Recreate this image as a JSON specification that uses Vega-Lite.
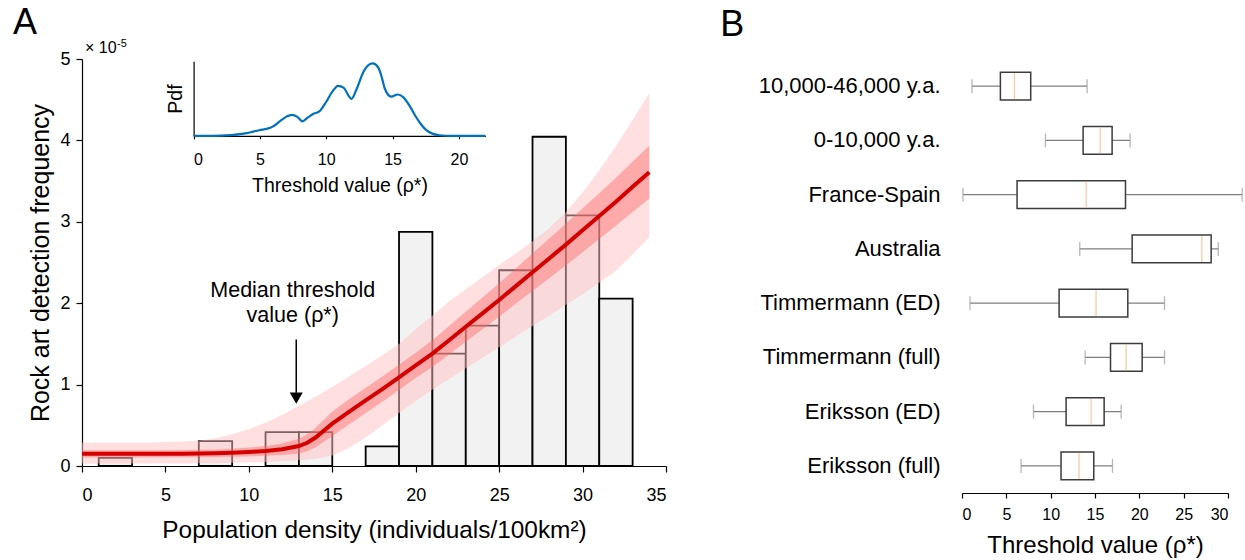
{
  "$schema": "https://vega.github.io/schema/vega-lite/v6.json",
  "padding": {"left": 12, "top": 4, "right": 2, "bottom": 2},
  "config": {
    "font": "Liberation Sans",
    "view": {"stroke": null},
    "axis": {"grid": false, "domainColor": "black", "tickColor": "black", "labelColor": "black", "titleColor": "black", "titleFontWeight": "normal", "domainWidth": 1.2, "tickWidth": 1.2}
  },
  "datasets": {
    "hist": [
      {"x0": 1, "x1": 3, "freq": 0.10},
      {"x0": 7, "x1": 9, "freq": 0.305},
      {"x0": 11, "x1": 13, "freq": 0.415},
      {"x0": 13, "x1": 15, "freq": 0.415},
      {"x0": 17, "x1": 19, "freq": 0.24},
      {"x0": 19, "x1": 21, "freq": 2.876},
      {"x0": 21, "x1": 23, "freq": 1.38},
      {"x0": 23, "x1": 25, "freq": 1.724},
      {"x0": 25, "x1": 27, "freq": 2.405},
      {"x0": 27, "x1": 29, "freq": 4.045},
      {"x0": 29, "x1": 31, "freq": 3.08},
      {"x0": 31, "x1": 33, "freq": 2.056}
    ],
    "fit": [
      {"x": 0, "L": 0.15, "iLo": 0.105, "iHi": 0.195, "oLo": 0.03, "oHi": 0.29},
      {"x": 2, "L": 0.15, "iLo": 0.105, "iHi": 0.195, "oLo": 0.03, "oHi": 0.29},
      {"x": 4, "L": 0.15, "iLo": 0.105, "iHi": 0.195, "oLo": 0.03, "oHi": 0.29},
      {"x": 6, "L": 0.152, "iLo": 0.107, "iHi": 0.197, "oLo": 0.03, "oHi": 0.30},
      {"x": 7, "L": 0.154, "iLo": 0.109, "iHi": 0.199, "oLo": 0.033, "oHi": 0.31},
      {"x": 8, "L": 0.157, "iLo": 0.112, "iHi": 0.202, "oLo": 0.035, "oHi": 0.34},
      {"x": 9, "L": 0.163, "iLo": 0.113, "iHi": 0.213, "oLo": 0.04, "oHi": 0.39},
      {"x": 10, "L": 0.172, "iLo": 0.117, "iHi": 0.227, "oLo": 0.045, "oHi": 0.45},
      {"x": 11, "L": 0.185, "iLo": 0.125, "iHi": 0.245, "oLo": 0.05, "oHi": 0.53},
      {"x": 12, "L": 0.205, "iLo": 0.135, "iHi": 0.275, "oLo": 0.06, "oHi": 0.63},
      {"x": 13, "L": 0.245, "iLo": 0.155, "iHi": 0.335, "oLo": 0.07, "oHi": 0.74},
      {"x": 13.5, "L": 0.285, "iLo": 0.18, "iHi": 0.39, "oLo": 0.08, "oHi": 0.795},
      {"x": 14, "L": 0.35, "iLo": 0.23, "iHi": 0.47, "oLo": 0.09, "oHi": 0.85},
      {"x": 15, "L": 0.52, "iLo": 0.37, "iHi": 0.67, "oLo": 0.13, "oHi": 0.97},
      {"x": 16, "L": 0.665, "iLo": 0.51, "iHi": 0.82, "oLo": 0.22, "oHi": 1.1},
      {"x": 17, "L": 0.805, "iLo": 0.65, "iHi": 0.96, "oLo": 0.35, "oHi": 1.23},
      {"x": 18, "L": 0.945, "iLo": 0.79, "iHi": 1.10, "oLo": 0.5, "oHi": 1.36},
      {"x": 19, "L": 1.09, "iLo": 0.935, "iHi": 1.245, "oLo": 0.65, "oHi": 1.5},
      {"x": 20, "L": 1.235, "iLo": 1.08, "iHi": 1.39, "oLo": 0.8, "oHi": 1.68},
      {"x": 21, "L": 1.38, "iLo": 1.215, "iHi": 1.545, "oLo": 0.94, "oHi": 1.85},
      {"x": 22, "L": 1.545, "iLo": 1.37, "iHi": 1.72, "oLo": 1.07, "oHi": 2.02},
      {"x": 23, "L": 1.71, "iLo": 1.525, "iHi": 1.895, "oLo": 1.2, "oHi": 2.17},
      {"x": 24, "L": 1.875, "iLo": 1.68, "iHi": 2.07, "oLo": 1.33, "oHi": 2.32},
      {"x": 25, "L": 2.04, "iLo": 1.835, "iHi": 2.245, "oLo": 1.46, "oHi": 2.47},
      {"x": 26, "L": 2.21, "iLo": 1.995, "iHi": 2.425, "oLo": 1.59, "oHi": 2.61},
      {"x": 27, "L": 2.38, "iLo": 2.15, "iHi": 2.61, "oLo": 1.72, "oHi": 2.76},
      {"x": 28, "L": 2.55, "iLo": 2.305, "iHi": 2.795, "oLo": 1.85, "oHi": 2.92},
      {"x": 29, "L": 2.72, "iLo": 2.465, "iHi": 2.975, "oLo": 1.98, "oHi": 3.12},
      {"x": 30, "L": 2.895, "iLo": 2.625, "iHi": 3.165, "oLo": 2.11, "oHi": 3.36},
      {"x": 31, "L": 3.07, "iLo": 2.79, "iHi": 3.35, "oLo": 2.25, "oHi": 3.63},
      {"x": 32, "L": 3.245, "iLo": 2.95, "iHi": 3.54, "oLo": 2.4, "oHi": 3.93},
      {"x": 33, "L": 3.43, "iLo": 3.12, "iHi": 3.74, "oLo": 2.6, "oHi": 4.25},
      {"x": 34, "L": 3.61, "iLo": 3.285, "iHi": 3.935, "oLo": 2.81, "oHi": 4.58}
    ],
    "pdf": [
      {"t": 0, "p": 0}, {"t": 1, "p": 0}, {"t": 2, "p": 0.003}, {"t": 3, "p": 0.012},
      {"t": 3.5, "p": 0.022}, {"t": 4, "p": 0.037}, {"t": 4.5, "p": 0.058}, {"t": 5, "p": 0.08},
      {"t": 5.5, "p": 0.095}, {"t": 6, "p": 0.13}, {"t": 6.5, "p": 0.2}, {"t": 7, "p": 0.265},
      {"t": 7.4, "p": 0.29}, {"t": 7.8, "p": 0.265}, {"t": 8.2, "p": 0.2}, {"t": 8.6, "p": 0.25},
      {"t": 9, "p": 0.3}, {"t": 9.5, "p": 0.34}, {"t": 10, "p": 0.47}, {"t": 10.5, "p": 0.62},
      {"t": 10.9, "p": 0.69}, {"t": 11.3, "p": 0.665}, {"t": 11.9, "p": 0.51}, {"t": 12.3, "p": 0.65},
      {"t": 12.8, "p": 0.88}, {"t": 13.2, "p": 0.98}, {"t": 13.5, "p": 1.0}, {"t": 13.9, "p": 0.95},
      {"t": 14.2, "p": 0.8}, {"t": 14.4, "p": 0.66}, {"t": 14.9, "p": 0.54}, {"t": 15.4, "p": 0.57},
      {"t": 15.8, "p": 0.535}, {"t": 16.3, "p": 0.41}, {"t": 16.7, "p": 0.28}, {"t": 17.1, "p": 0.17},
      {"t": 17.5, "p": 0.085}, {"t": 18, "p": 0.03}, {"t": 18.5, "p": 0.008}, {"t": 19, "p": 0.001},
      {"t": 20, "p": 0}, {"t": 22, "p": 0}
    ],
    "annot": [
      {"x": 12.63, "y": 2.074, "label": "Median threshold"},
      {"x": 12.63, "y": 1.775, "label": "value (ρ*)"}
    ],
    "scalebase": [{"x": 0.18, "y": 5.07, "label": "× 10"}],
    "scaleexp": [{"x": 2.1, "y": 5.15, "label": "-5"}],
    "arrow": [{"x": 12.84, "top": 1.554, "bottom": 0.9, "head": 0.833}],
    "boxes": [
      {"label": "10,000-46,000 y.a.", "lo": 1.13, "q1": 4.33, "med": 5.91, "q3": 7.75, "hi": 14.11},
      {"label": "0-10,000 y.a.", "lo": 9.41, "q1": 13.66, "med": 15.58, "q3": 16.93, "hi": 18.96},
      {"label": "France-Spain", "lo": 0.11, "q1": 6.21, "med": 14.0, "q3": 18.44, "hi": 31.6},
      {"label": "Australia", "lo": 13.28, "q1": 19.19, "med": 27.05, "q3": 28.1, "hi": 28.9},
      {"label": "Timmermann (ED)", "lo": 0.9, "q1": 10.95, "med": 15.12, "q3": 18.7, "hi": 22.84},
      {"label": "Timmermann (full)", "lo": 13.89, "q1": 16.75, "med": 18.51, "q3": 20.32, "hi": 22.84},
      {"label": "Eriksson (ED)", "lo": 8.06, "q1": 11.74, "med": 14.56, "q3": 16.03, "hi": 17.95},
      {"label": "Eriksson (full)", "lo": 6.66, "q1": 11.17, "med": 13.2, "q3": 14.86, "hi": 16.97}
    ]
  },
  "spacing": 53,
  "hconcat": [
    {
      "title": {"text": "A", "anchor": "start", "frame": "bounds", "fontSize": 36, "fontWeight": "normal", "dx": -16, "offset": -4},
      "width": 584,
      "height": 407,
      "layer": [
        {
          "layer": [
            {
              "data": {"name": "hist"},
              "mark": {"type": "rect", "fill": "#f2f2f2", "stroke": "black", "strokeWidth": 1.8},
              "encoding": {
                "x": {"field": "x0", "type": "quantitative", "scale": {"domain": [0, 35], "nice": false},
                  "axis": {"values": [0, 5, 10, 15, 20, 25, 30, 35], "format": "d", "title": "Population density (individuals/100km²)", "titleFontSize": 24.4, "labelFontSize": 18, "tickSize": 6, "labelPadding": 14, "titlePadding": 14}},
                "x2": {"field": "x1"},
                "y": {"field": "freq", "type": "quantitative", "scale": {"domain": [0, 5], "nice": false},
                  "axis": {"values": [0, 1, 2, 3, 4, 5], "format": "d", "title": "Rock art detection frequency", "titleFontSize": 25, "labelFontSize": 18, "tickSize": 6, "labelPadding": 6, "titlePadding": 6}},
                "y2": {"datum": 0}
              }
            },
            {
              "data": {"name": "fit"},
              "mark": {"type": "area", "color": "#ffbfbf", "opacity": 0.5},
              "encoding": {"x": {"field": "x", "type": "quantitative"}, "y": {"field": "oLo", "type": "quantitative"}, "y2": {"field": "oHi"}}
            },
            {
              "data": {"name": "fit"},
              "mark": {"type": "area", "color": "#ff6b6b", "opacity": 0.45},
              "encoding": {"x": {"field": "x", "type": "quantitative"}, "y": {"field": "iLo", "type": "quantitative"}, "y2": {"field": "iHi"}}
            },
            {
              "data": {"name": "fit"},
              "mark": {"type": "line", "color": "#d40000", "strokeWidth": 4},
              "encoding": {"x": {"field": "x", "type": "quantitative"}, "y": {"field": "L", "type": "quantitative"}}
            },
            {
              "data": {"name": "arrow"},
              "mark": {"type": "rule", "color": "black", "strokeWidth": 1.5},
              "encoding": {"x": {"field": "x", "type": "quantitative"}, "y": {"field": "top", "type": "quantitative"}, "y2": {"field": "bottom"}}
            },
            {
              "data": {"name": "arrow"},
              "mark": {"type": "point", "shape": "triangle-down", "filled": true, "color": "black", "size": 169, "opacity": 1},
              "encoding": {"x": {"field": "x", "type": "quantitative"}, "y": {"field": "head", "type": "quantitative"}}
            },
            {
              "data": {"name": "annot"},
              "mark": {"type": "text", "fontSize": 21.5, "align": "center", "baseline": "alphabetic", "color": "black"},
              "encoding": {"x": {"field": "x", "type": "quantitative"}, "y": {"field": "y", "type": "quantitative"}, "text": {"field": "label"}}
            },
            {
              "data": {"name": "scalebase"},
              "mark": {"type": "text", "fontSize": 16, "align": "left", "baseline": "alphabetic", "color": "black"},
              "encoding": {"x": {"field": "x", "type": "quantitative"}, "y": {"field": "y", "type": "quantitative"}, "text": {"field": "label"}}
            },
            {
              "data": {"name": "scaleexp"},
              "mark": {"type": "text", "fontSize": 11, "align": "left", "baseline": "alphabetic", "color": "black"},
              "encoding": {"x": {"field": "x", "type": "quantitative"}, "y": {"field": "y", "type": "quantitative"}, "text": {"field": "label"}}
            }
          ]
        },
        {
          "data": {"name": "pdf"},
          "mark": {"type": "line", "color": "#0072bd", "strokeWidth": 2.2, "interpolate": "monotone"},
          "encoding": {
            "x": {"field": "t", "type": "quantitative", "scale": {"domain": [0, 22], "range": [111.6, 403.4], "nice": false},
              "axis": {"orient": "bottom", "offset": -330.2, "values": [0, 5, 10, 15, 20], "format": "d", "title": "Threshold value (ρ*)", "titleFontSize": 19.5, "labelFontSize": 16, "tickSize": 3, "labelPadding": 13, "titlePadding": 9}},
            "y": {"field": "p", "type": "quantitative", "scale": {"domain": [0, 1.03], "range": [76.8, 2.2], "nice": false},
              "axis": {"orient": "left", "offset": -111.6, "title": "Pdf", "titleFontSize": 19.5, "labels": false, "ticks": false, "titlePadding": 8}}
          }
        }
      ],
      "resolve": {"scale": {"x": "independent", "y": "independent"}}
    },
    {
      "title": {"text": "B", "anchor": "start", "frame": "bounds", "fontSize": 36, "fontWeight": "normal", "dx": -38, "offset": 15},
      "width": 266,
      "height": 434,
      "data": {"name": "boxes"},
      "encoding": {
        "y": {"field": "label", "type": "nominal", "sort": null, "scale": {"paddingInner": 0.49, "paddingOuter": 0.245},
          "axis": {"title": null, "domain": false, "ticks": false, "tickSize": 0, "labelFontSize": 22, "labelPadding": 22, "labelLimit": 400}}
      },
      "layer": [
        {
          "mark": {"type": "rule", "color": "#808080", "strokeWidth": 1.3},
          "encoding": {
            "x": {"field": "lo", "type": "quantitative", "scale": {"domain": [0, 30], "nice": false},
              "axis": {"values": [0, 5, 10, 15, 20, 25, 30], "format": "d", "title": "Threshold value (ρ*)", "titleFontSize": 24, "labelFontSize": 16, "tickSize": 5, "labelPadding": 8, "titlePadding": 11}},
            "x2": {"field": "hi"}
          }
        },
        {
          "mark": {"type": "bar", "fill": "white", "stroke": "#3c3c3c", "strokeWidth": 1.5},
          "encoding": {"x": {"field": "q1", "type": "quantitative"}, "x2": {"field": "q3"}}
        },
        {
          "mark": {"type": "tick", "color": "#fbb479", "thickness": 1.3, "size": 26},
          "encoding": {"x": {"field": "med", "type": "quantitative"}}
        },
        {
          "mark": {"type": "tick", "color": "#999999", "thickness": 1.3, "size": 14},
          "encoding": {"x": {"field": "lo", "type": "quantitative"}}
        },
        {
          "mark": {"type": "tick", "color": "#999999", "thickness": 1.3, "size": 14},
          "encoding": {"x": {"field": "hi", "type": "quantitative"}}
        }
      ]
    }
  ]
}
